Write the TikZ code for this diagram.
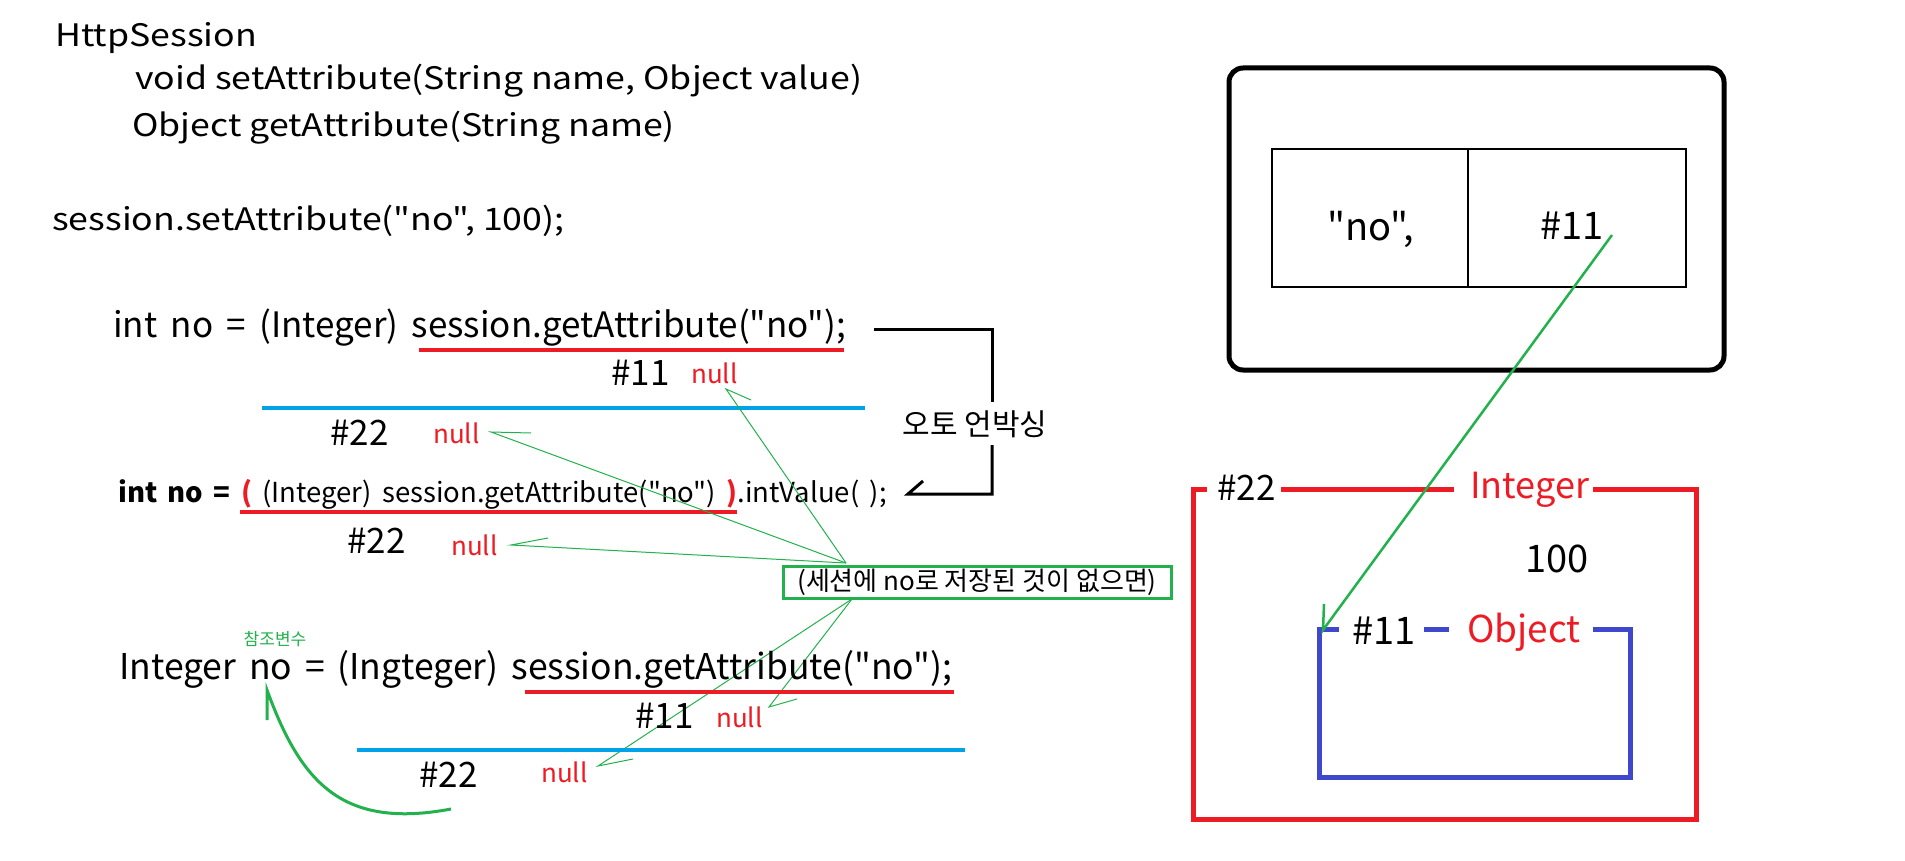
\documentclass[tikz,border=0pt]{standalone}
\usepackage{graphicx}
\usepackage{fontspec}
\setmainfont{Noto Sans CJK KR}[Ligatures=TeXOff]
\newcommand{\fsz}[1]{\fontsize{#1}{#1}\selectfont}
\newcommand{\wtext}[1]{\scalebox{1.15}[1]{#1}}
\newcommand{\widesp}{\spaceskip=0.38em plus 0em minus 0em\relax}
\newcommand{\midsp}{\spaceskip=0.36em plus 0em minus 0em\relax}
\definecolor{pred}{HTML}{ED1C24}
\definecolor{pblue}{HTML}{00A2E8}
\definecolor{pgreen}{HTML}{22B14C}
\definecolor{pindigo}{HTML}{3F48CC}
\begin{document}
\begin{tikzpicture}[x=1pt,y=-1pt,
  txt/.style={anchor=base west, inner sep=0pt, font=\fsz{31}},
  code/.style={txt, font=\fsz{35}\widesp},
  addr/.style={txt, font=\fsz{35}},
  nul/.style={txt, text=pred, font=\fsz{26}},
  redline/.style={pred, line width=3.5},
  blueline/.style={pblue, line width=3.5},
  thinarrow/.style={pgreen, line width=1},
  boxline/.style={line width=5}]
\useasboundingbox (0,0) rectangle (1905,861);
% left text
\node[txt] (hs) at (55,47) {\wtext{HttpSession}};
\node[txt] (set) at (135,90) {\wtext{void setAttribute(String name, Object value)}};
\node[txt] (get) at (132,137) {\wtext{Object getAttribute(String name)}};
\node[txt] (call) at (52,230) {\wtext{session.setAttribute("no", 100);}};
% line 1
\node[code] (l1) at (113,337) {int no = (Integer) session.getAttribute("no");};
\draw[redline] (419,350) -- (844,350);
\node[addr] (h11a) at (611,385) {\#11};
\node[nul] (n1) at (691,383) {null};
\draw[blueline] (262,408) -- (865,408);
\node[addr] (h22a) at (330,445) {\#22};
\node[nul] (n2) at (433,443) {null};
% unboxing bracket
\node[font=\fsz{30}, inner sep=0pt] (unbox) at (975,424) {오토 언박싱};
\draw[line width=3] (874,329) -- (992,329) -- (992,402);
\draw[line width=3] (992,445) -- (992,494) -- (908,494) -- (923,481);
% line 2
\node[txt, font=\fsz{27.5}\widesp] (l2) at (118,502) {\textbf{int no =} \textcolor{pred}{\textbf{(}} (Integer) session.getAttribute("no") \textcolor{pred}{\textbf{)}}.intValue( );};
\draw[redline] (240,512) -- (737,512);
\node[addr] (h22b) at (347,553) {\#22};
\node[nul] (n3) at (451,555) {null};
% condition box
\node[draw=pgreen, line width=3, minimum width=388pt, minimum height=32pt, inner sep=0pt, font=\fsz{26}] (cond) at (977,582) {(세션에 no로 저장된 것이 없으면)};
\coordinate (ct) at (846,563);
\coordinate (cb) at (852,599);
\coordinate (a1) at (726,389);
\coordinate (a2) at (491,432);
\coordinate (a3) at (511,545);
\coordinate (a4) at (769,707);
\coordinate (a5) at (598,766);
\draw[thinarrow] (ct) -- (a1) -- (751,400);
\draw[thinarrow] (ct) -- (a2) -- (531,433);
\draw[thinarrow] (ct) -- (a3) -- (548,538);
\draw[thinarrow] (cb) -- (a4) -- (797,699);
\draw[thinarrow] (cb) -- (a5) -- (633,759);
% line 3
\node[font=\fsz{17}, text=pgreen, inner sep=0pt] (ref) at (275,639) {참조변수};
\node[txt, font=\fsz{35.5}\midsp] (l3) at (119,679) {Integer no = (Ingteger) session.getAttribute("no");};
\draw[redline] (525,692) -- (954,692);
\node[addr] (h11b) at (635,728) {\#11};
\node[nul] (n4) at (716,727) {null};
\draw[blueline] (357,750) -- (965,750);
\node[addr] (h22c) at (419,787) {\#22};
\node[nul] (n5) at (541,782) {null};
\coordinate (cs) at (451,809);
\coordinate (ce) at (267,690);
\draw[pgreen, line width=3] (cs) .. controls (340,830) and (300,780) .. (ce) -- (267,720);
% session storage
\draw[boxline, rounded corners=14pt] (1229,68) rectangle (1724,370);
\draw[line width=1.2] (1272,149) rectangle (1686,287);
\draw[line width=1.2] (1468,149) -- (1468,287);
\node[txt, font=\fsz{38}] (key) at (1327,240) {"no",};
\node[txt, font=\fsz{38}] (val) at (1540,239) {\#11};
% Integer object
\draw[boxline, pred] (1207,489) -- (1193,489) -- (1193,819) -- (1696,819) -- (1696,489) -- (1593,489);
\draw[boxline, pred] (1281,489) -- (1454,489);
\node[txt, font=\fsz{35}] (i22) at (1217,500) {\#22};
\node[txt, font=\fsz{36}, text=pred] (itype) at (1470,498) {Integer};
\node[txt, font=\fsz{38}] (hundred) at (1525,572) {100};
% Object
\draw[boxline, pindigo] (1339,629) -- (1319,629) -- (1319,777) -- (1630,777) -- (1630,629) -- (1593,629);
\draw[boxline, pindigo] (1424,629) -- (1449,629);
\node[txt, font=\fsz{38}] (o11) at (1352,644) {\#11};
\node[txt, font=\fsz{37}, text=pred] (otype) at (1467,642) {Object};
\coordinate (vs) at (1612,235);
\coordinate (ot) at (1323,630);
\draw[pgreen, line width=2.5] (vs) -- (ot) -- (1324,604);
\end{tikzpicture}
\end{document}
